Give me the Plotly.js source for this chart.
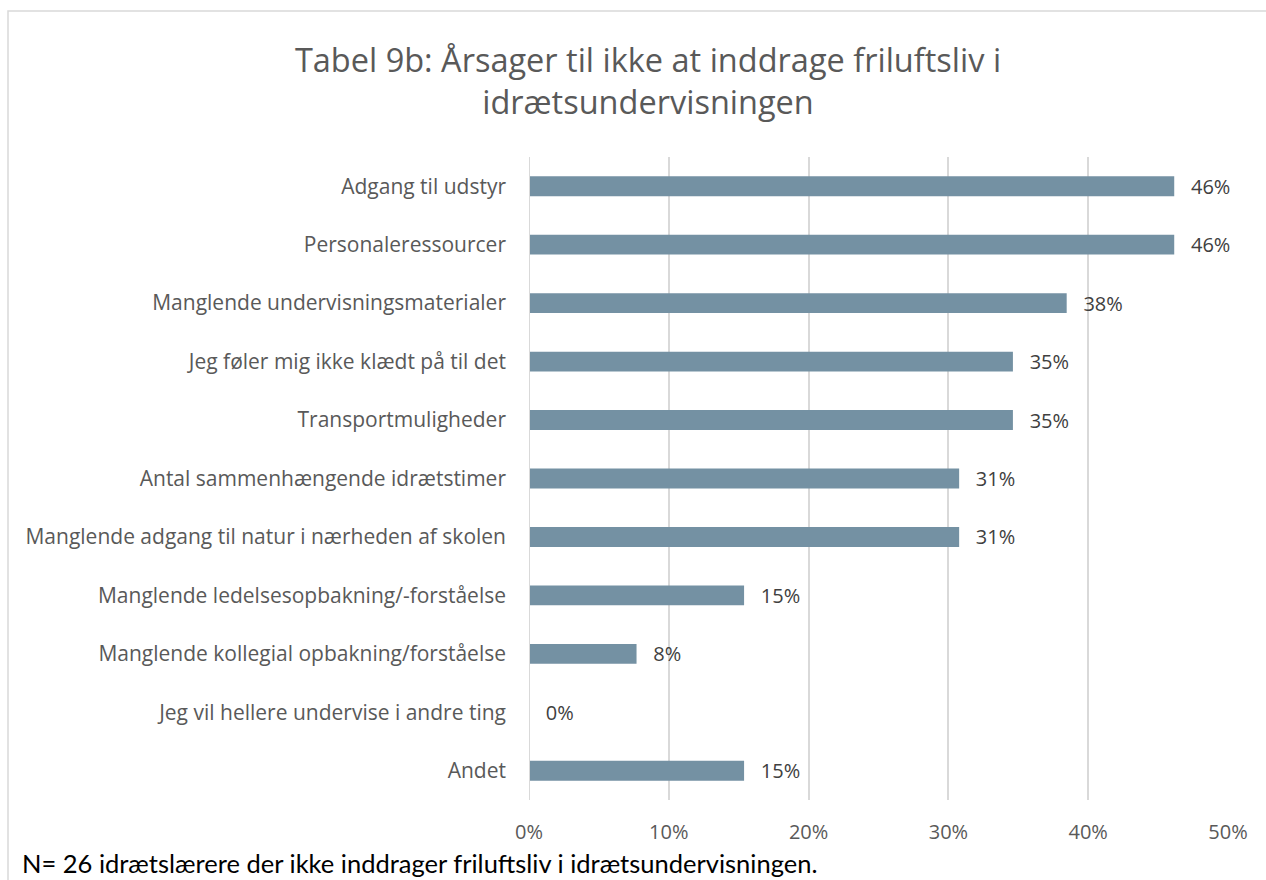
<!DOCTYPE html>
<html><head><meta charset="utf-8">
<script src="https://cdn.plot.ly/plotly-3.0.1.min.js"></script>
<style>html,body{margin:0;padding:0;background:#fff}#c{width:1266px;height:880px}</style>
</head><body><div id="c"></div>
<script>
const categories = [
  "Adgang til udstyr",
  "Personaleressourcer",
  "Manglende undervisningsmaterialer",
  "Jeg føler mig ikke klædt på til det",
  "Transportmuligheder",
  "Antal sammenhængende idrætstimer",
  "Manglende adgang til natur i nærheden af skolen",
  "Manglende ledelsesopbakning/-forståelse",
  "Manglende kollegial opbakning/forståelse",
  "Jeg vil hellere undervise i andre ting",
  "Andet"
];
const counts = [12, 12, 10, 9, 9, 8, 8, 4, 2, 0, 4];
const totalN = 26;
const values = counts.map(c => c / totalN);
const labels = values.map(v => Math.round(v * 100) + "%");
const tickVals = [0, 0.1, 0.2, 0.3, 0.4, 0.5];
const tickText = ["0%", "10%", "20%", "30%", "40%", "50%"];

const L = 529, R = 1228;
const pw = R - L;
const fx = px => (px - L) / pw;

Plotly.newPlot('c', [{
  type: 'bar', orientation: 'h',
  y: categories, x: values,
  text: labels.map(t => "  \u2009" + t), textposition: 'outside',
  constraintext: 'none',
  textfont: {family: 'Open Sans, sans-serif', size: 20, color: '#404040'},
  marker: {color: '#7491A3'},
  cliponaxis: false, hoverinfo: 'none'
}], {
  width: 1266, height: 880,
  margin: {l: 529, r: 38, t: 157, b: 80},
  paper_bgcolor: '#fff', plot_bgcolor: '#fff',
  bargap: 0.66,
  showlegend: false,
  title: {text: 'Tabel 9b: Årsager til ikke at inddrage friluftsliv i<br>idrætsundervisningen',
    font: {family: 'Open Sans, sans-serif', size: 32.5, color: '#595959'},
    x: 648 / 1266, xref: 'container', xanchor: 'center',
    y: 1 - 72 / 880, yref: 'container', yanchor: 'middle'},
  xaxis: {range: [0, 0.5], tickvals: tickVals, ticktext: tickText,
    showgrid: true, gridcolor: '#D9D9D9', gridwidth: 2, zeroline: false,
    showline: false, ticks: '', ticklabelstandoff: 18,
    tickfont: {family: 'Open Sans, sans-serif', size: 20, color: '#595959'}},
  yaxis: {autorange: 'reversed', showgrid: false, showline: false, ticks: '',
    ticklabelstandoff: 22,
    tickfont: {family: 'Open Sans, sans-serif', size: 21, color: '#595959'}},
  shapes: [
    {type: 'line', xref: 'x', yref: 'paper', x0: 0, x1: 0, y0: 0, y1: 1,
     line: {color: '#D9D9D9', width: 2}},
    {type: 'rect', xref: 'paper', yref: 'paper',
     x0: fx(8), x1: fx(1275), y0: (800 - 11) / 643, y1: (800 - 890) / 643,
     line: {color: '#D9D9D9', width: 1.5}, fillcolor: 'rgba(0,0,0,0)', layer: 'below'}
  ],
  annotations: [{
    xref: 'paper', yref: 'paper', x: fx(20), y: (800 - 863) / 643,
    xanchor: 'left', yanchor: 'middle', showarrow: false,
    text: 'N= 26 idrætslærere der ikke inddrager friluftsliv i idrætsundervisningen.',
    font: {family: 'Lato, sans-serif', size: 25.5, color: '#000'}
  }]
}, {staticPlot: true});
</script></body></html>
